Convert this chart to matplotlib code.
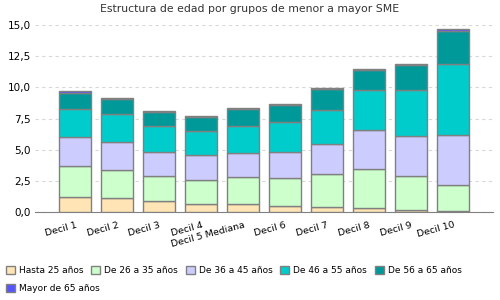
import numpy as np
import matplotlib.pyplot as plt
from matplotlib.patches import Patch

deciles = ['Decil 1', 'Decil 2', 'Decil 3', 'Decil 4', 'Decil 5 Mediana',
           'Decil 6', 'Decil 7', 'Decil 8', 'Decil 9', 'Decil 10']

hasta_25 = [1.25, 1.09, 0.88, 0.64, 0.64, 0.45, 0.37, 0.29, 0.13, 0.08]
de_26_35 = [2.43, 2.32, 2.00, 1.97, 2.16, 2.32, 2.67, 3.20, 2.75, 2.08]
de_36_45 = [2.32, 2.24, 1.97, 1.95, 1.97, 2.08, 2.45, 3.12, 3.20, 4.05]
de_46_55 = [2.30, 2.25, 2.03, 1.92, 2.16, 2.40, 2.73, 3.16, 3.69, 5.64]
de_56_65 = [1.28, 1.17, 1.17, 1.17, 1.34, 1.35, 1.63, 1.65, 2.00, 2.69]
mayor_65 = [0.14, 0.07, 0.07, 0.07, 0.08, 0.07, 0.06, 0.03, 0.06, 0.13]

series = [hasta_25, de_26_35, de_36_45, de_46_55, de_56_65, mayor_65]
labels = ['Hasta 25 años', 'De 26 a 35 años', 'De 36 a 45 años',
          'De 46 a 55 años', 'De 56 a 65 años', 'Mayor de 65 años']
colors = ['#FFE4B5', '#CCFFCC', '#CCCCFF', '#00CCCC', '#009999', '#5555FF']
yticks = [0, 2.5, 5, 7.5, 10, 12.5, 15]

fig = plt.figure(figsize=(5, 3), dpi=100)
ax = fig.add_axes([0.07, 0.293, 0.916, 0.624])

x = np.arange(len(deciles))
bottom = np.zeros(len(deciles))
for vals, lab, col in zip(series, labels, colors):
    ax.bar(x, vals, 0.76, bottom=bottom, color=col, edgecolor='#808080',
           linewidth=1, label=lab, zorder=3)
    bottom += np.array(vals)

ax.set_xlim(-0.96, 9.95)
ax.set_ylim(0, 15)
ax.set_yticks(yticks)
ax.set_yticklabels([f'{v:.1f}'.replace('.', ',') for v in yticks], fontsize=7.5)
ax.set_xticks(x)
ax.set_xticklabels(deciles, rotation=15, ha='right', rotation_mode='anchor',
                   fontsize=6.8)
ax.tick_params(axis='both', length=0, pad=3)
ax.tick_params(axis='x', pad=6)
ax.grid(axis='y', color='#d8d8d8', linestyle=(0, (3, 3)), linewidth=0.8, zorder=0)
for s in ['top', 'right', 'left']:
    ax.spines[s].set_visible(False)
ax.spines['bottom'].set_color('#808080')

fig.text(0.5, 0.97, 'Estructura de edad por grupos de menor a mayor SME',
         ha='center', va='center', fontsize=7.8, color='#333333')

handles = [Patch(facecolor=c, edgecolor='#808080', label=l) for c, l in zip(colors, labels)]
leg_kw = dict(frameon=False, fontsize=6.5, handlelength=1.0, handleheight=1.0,
              handletextpad=0.4, columnspacing=0.9, borderaxespad=0.0)
leg1 = fig.legend(handles=handles[:5], loc='center left', bbox_to_anchor=(0.005, 0.097),
                  ncol=5, **leg_kw)
fig.legend(handles=handles[5:], loc='center left', bbox_to_anchor=(0.005, 0.037),
           ncol=1, **leg_kw)

fig.savefig('out.png', dpi=100)
